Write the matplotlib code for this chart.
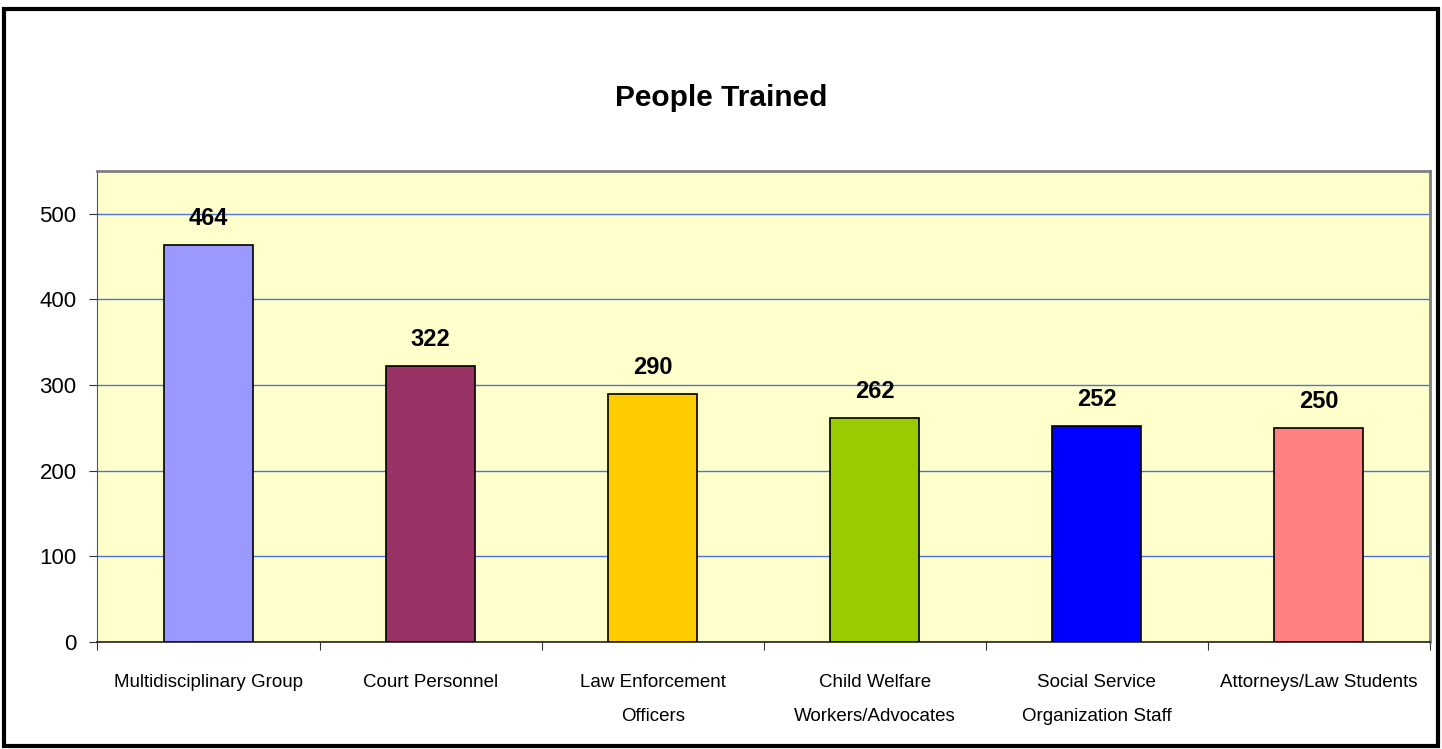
import matplotlib.pyplot as plt
from matplotlib.patches import Rectangle

categories = ['Multidisciplinary Group', 'Court Personnel', 'Law Enforcement\nOfficers',
              'Child Welfare\nWorkers/Advocates', 'Social Service\nOrganization Staff',
              'Attorneys/Law Students']
values = [464, 322, 290, 262, 252, 250]
colors = ['#9999FF', '#993366', '#FFCC00', '#99CC00', '#0000FF', '#FF8080']

plt.rcParams['font.family'] = ['Liberation Sans', 'DejaVu Sans']

fig = plt.figure(figsize=(14.42, 7.49), dpi=100)
ax = fig.add_axes([0.0676, 0.1429, 0.924, 0.6288])

# outer frame of the chart
fig.patches.append(Rectangle((0.0025, 0.004), 0.995, 0.984, transform=fig.transFigure,
                             fill=False, edgecolor='black', lw=3))

ax.set_facecolor('#FFFFCC')
x = list(range(len(values)))
ax.bar(x, values, width=0.4, color=colors, edgecolor='black', lw=1.2, zorder=3)

ax.set_xlim(-0.5, len(values) - 0.5)
ax.set_ylim(0, 550)
ax.set_yticks(range(0, 501, 100))
ax.yaxis.grid(True, color='#4F72E0', lw=1)
ax.set_axisbelow(True)
ax.tick_params(axis='y', labelsize=16, length=6, color='#333333', pad=9)

# category ticks sit between bars
ax.set_xticks([i - 0.5 for i in range(len(values) + 1)])
ax.set_xticklabels([])
ax.tick_params(axis='x', length=6, color='#333333')
for i, c in enumerate(categories):
    ax.text(i, -0.068, c, transform=ax.get_xaxis_transform(), ha='center', va='top',
            fontsize=13.5, linespacing=2.3)

for i, v in enumerate(values):
    ax.annotate(str(v), (i, v), xytext=(0, 19), textcoords='offset points',
                ha='center', va='center', fontsize=17, fontweight='bold')

for s in ['top', 'right']:
    ax.spines[s].set_color('#808080')
    ax.spines[s].set_linewidth(2)
ax.spines['left'].set_color('#555555')
ax.spines['bottom'].set_color('#222222')
ax.spines['bottom'].set_linewidth(1.2)

fig.text(0.5, 0.869, 'People Trained', ha='center', va='center', fontsize=21.5,
         fontweight='bold')

plt.savefig('out.png')
